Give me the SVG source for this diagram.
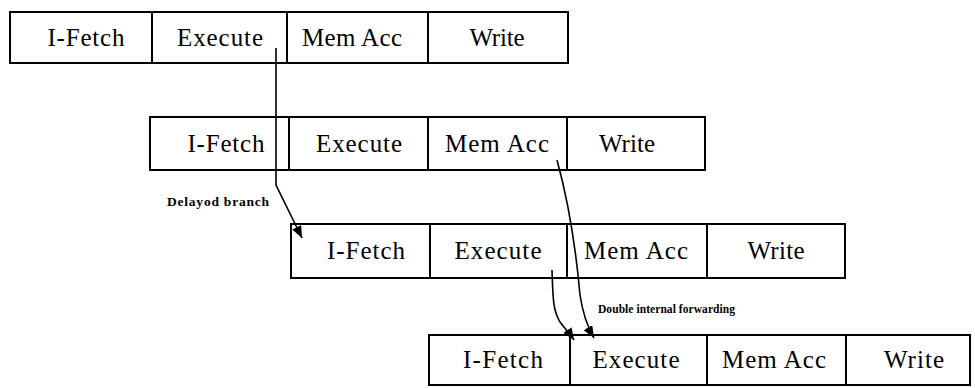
<svg xmlns="http://www.w3.org/2000/svg" width="975" height="388" viewBox="0 0 975 388">
<style>
.cell{fill:#fff;stroke:#000;stroke-width:2}
.lbl{font-family:"Liberation Serif","Times New Roman",serif;font-size:25px;fill:#000;text-anchor:middle}
.note{font-family:"Liberation Serif","Times New Roman",serif;font-weight:bold;fill:#000}
.conn{fill:none;stroke:#000;stroke-width:1.6}
</style>
<defs>
<marker id="ah" markerUnits="userSpaceOnUse" markerWidth="14" markerHeight="12" refX="12" refY="5" orient="auto">
<path d="M0,0 L12,5 L0,10 Z" fill="#000"/>
</marker>
</defs>
<rect width="975" height="388" fill="#fff"/>
<g id="row1">
<g id="r1-ifetch"><rect class="cell" x="10" y="12" width="142" height="51"/><text class="lbl" x="86" y="46" textLength="77" lengthAdjust="spacing">I-Fetch</text></g>
<g id="r1-execute"><rect class="cell" x="152" y="12" width="135" height="51"/><text class="lbl" x="220" y="46" textLength="86" lengthAdjust="spacing">Execute</text></g>
<g id="r1-memacc"><rect class="cell" x="287" y="12" width="141" height="51"/><text class="lbl" x="352" y="46" textLength="100" lengthAdjust="spacing">Mem Acc</text></g>
<g id="r1-write"><rect class="cell" x="428" y="12" width="140" height="51"/><text class="lbl" x="497" y="46" textLength="55" lengthAdjust="spacing">Write</text></g>
</g>
<g id="row2">
<g id="r2-ifetch"><rect class="cell" x="150" y="117" width="139" height="53"/><text class="lbl" x="226" y="152" textLength="77" lengthAdjust="spacing">I-Fetch</text></g>
<g id="r2-execute"><rect class="cell" x="289" y="117" width="139" height="53"/><text class="lbl" x="359" y="152" textLength="86" lengthAdjust="spacing">Execute</text></g>
<g id="r2-memacc"><rect class="cell" x="428" y="117" width="139" height="53"/><text class="lbl" x="497" y="152" textLength="104" lengthAdjust="spacing">Mem Acc</text></g>
<g id="r2-write"><rect class="cell" x="567" y="117" width="138" height="53"/><text class="lbl" x="627" y="152" textLength="56" lengthAdjust="spacing">Write</text></g>
</g>
<g id="row3">
<g id="r3-ifetch"><rect class="cell" x="291" y="224" width="139" height="54"/><text class="lbl" x="366" y="259" textLength="78" lengthAdjust="spacing">I-Fetch</text></g>
<g id="r3-execute"><rect class="cell" x="430" y="224" width="137" height="54"/><text class="lbl" x="498" y="259" textLength="87" lengthAdjust="spacing">Execute</text></g>
<g id="r3-memacc"><rect class="cell" x="567" y="224" width="140" height="54"/><text class="lbl" x="636" y="259" textLength="104" lengthAdjust="spacing">Mem Acc</text></g>
<g id="r3-write"><rect class="cell" x="707" y="224" width="138" height="54"/><text class="lbl" x="776" y="259" textLength="57" lengthAdjust="spacing">Write</text></g>
</g>
<g id="row4">
<g id="r4-ifetch"><rect class="cell" x="429" y="335" width="141" height="50"/><text class="lbl" x="503" y="368" textLength="80" lengthAdjust="spacing">I-Fetch</text></g>
<g id="r4-execute"><rect class="cell" x="570" y="335" width="137" height="50"/><text class="lbl" x="636" y="368" textLength="87" lengthAdjust="spacing">Execute</text></g>
<g id="r4-memacc"><rect class="cell" x="707" y="335" width="139" height="50"/><text class="lbl" x="774" y="368" textLength="104" lengthAdjust="spacing">Mem Acc</text></g>
<g id="r4-write"><rect class="cell" x="846" y="335" width="124" height="50"/><text class="lbl" x="914" y="368" textLength="60" lengthAdjust="spacing">Write</text></g>
</g>
<g id="connectors">
<path class="conn" d="M276,48 L276,185 L302,238" marker-end="url(#ah)"/>
<path class="conn" d="M557,160 C568,200 576,250 580,295 C583,315 587,326 594,338" marker-end="url(#ah)"/>
<path class="conn" d="M552,270 C553,300 553,310 560,322 C566,330 570,334 574,340" marker-end="url(#ah)"/>
<text class="note" x="167" y="206" font-size="13.5" textLength="102" lengthAdjust="spacing">Delayod branch</text>
<text class="note" x="598" y="313" font-size="11.5" textLength="137" lengthAdjust="spacing">Double internal forwarding</text>
</g>
</svg>
